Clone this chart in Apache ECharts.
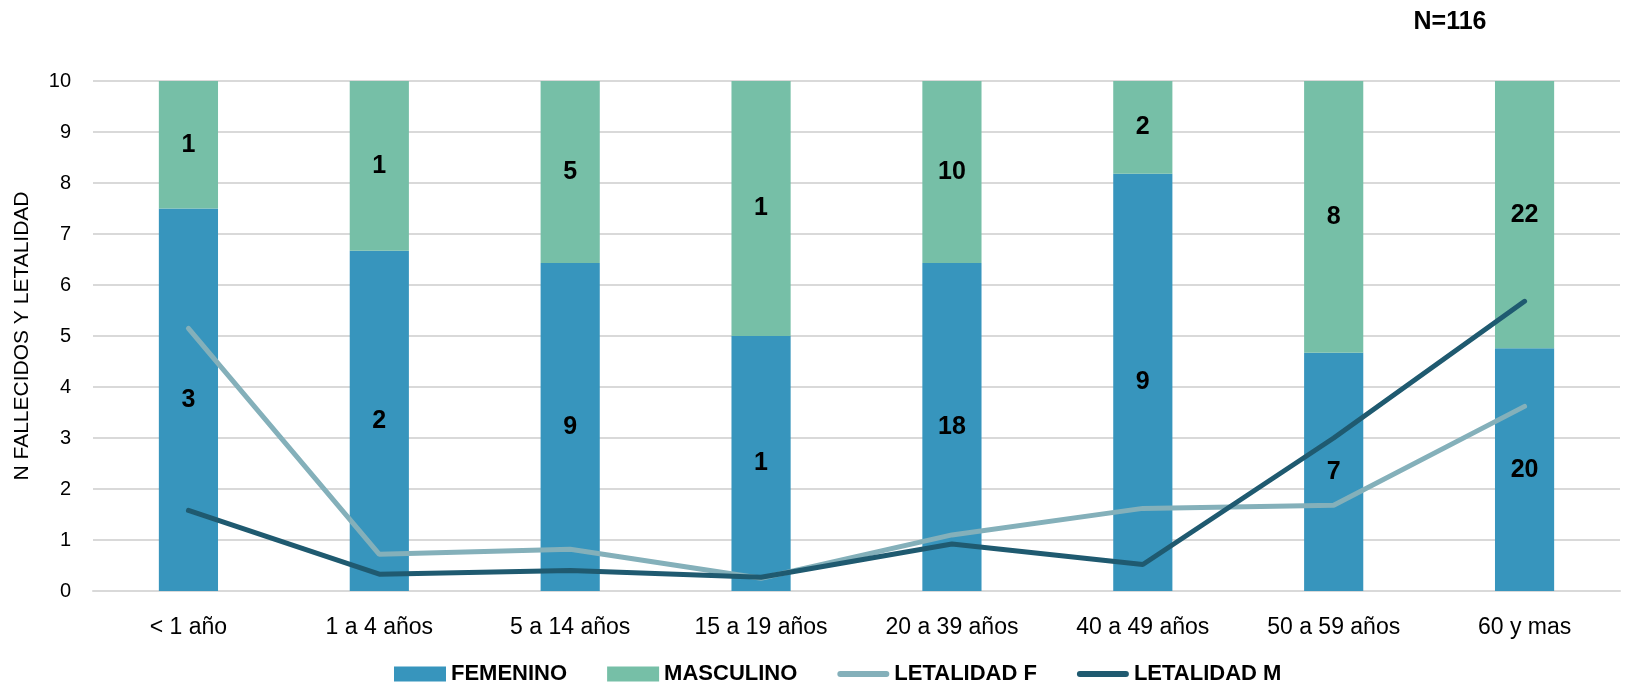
<!DOCTYPE html>
<html>
<head>
<meta charset="utf-8">
<script src="https://cdn.jsdelivr.net/npm/echarts@6/dist/echarts.min.js"></script>
<style>html,body{margin:0;padding:0;background:#fff;}#c{width:1652px;height:687px;}</style>
</head>
<body>
<div id="c"></div>
<script>
var categories = ['< 1 año', '1 a 4 años', '5 a 14 años', '15 a 19 años', '20 a 39 años', '40 a 49 años', '50 a 59 años', '60 y mas'];
var femeninoHeight = [7.5, 6.67, 6.43, 5.0, 6.43, 8.18, 4.67, 4.76];
var masculinoHeight = [2.5, 3.33, 3.57, 5.0, 3.57, 1.82, 5.33, 5.24];
var femeninoCount = [3, 2, 9, 1, 18, 9, 7, 20];
var masculinoCount = [1, 1, 5, 1, 10, 2, 8, 22];
var letalidadF = [5.15, 0.72, 0.82, 0.25, 1.1, 1.62, 1.68, 3.62];
var letalidadM = [1.58, 0.33, 0.4, 0.27, 0.92, 0.52, 3.0, 5.68];
var yTicks = [0, 1, 2, 3, 4, 5, 6, 7, 8, 9, 10];

var chart = echarts.init(document.getElementById('c'));
var font = 'Liberation Sans';
var lblStyle = {show: true, position: 'inside', color: '#000', fontWeight: 'bold', fontSize: 25, fontFamily: font};
var lineIcon = 'path://M0,0h0.05v0.05h-0.05zM52,15h-0.05v-0.05h0.05zM3,4.5h46a3,3 0 0 1 0,6h-46a3,3 0 0 1 0,-6z';
chart.setOption({
  animation: false,
  backgroundColor: '#fff',
  graphic: [
    {type: 'text', x: 1450, y: 22, style: {text: 'N=116', font: 'bold 25px "Liberation Sans"', fill: '#000', align: 'center', verticalAlign: 'middle'}},
    {type: 'text', x: 22, y: 336, rotation: Math.PI / 2, style: {text: 'N FALLECIDOS Y LETALIDAD', font: '21px "Liberation Sans"', fill: '#000', align: 'center', verticalAlign: 'middle'}}
  ],
  grid: {left: 93, right: 32, top: 81, bottom: 96},
  legend: {
    top: 658, left: 389, itemGap: 40, itemWidth: 52, itemHeight: 15,
    textStyle: {fontFamily: font, fontWeight: 'bold', fontSize: 22, color: '#000'},
    data: [
      {name: 'FEMENINO', icon: 'rect'},
      {name: 'MASCULINO', icon: 'rect'},
      {name: 'LETALIDAD F', icon: lineIcon},
      {name: 'LETALIDAD M', icon: lineIcon}
    ]
  },
  xAxis: {
    type: 'category', data: categories,
    axisLine: {lineStyle: {color: '#d9d9d9', width: 2}},
    axisTick: {show: false},
    axisLabel: {fontFamily: font, fontSize: 23, color: '#000', margin: 25}
  },
  yAxis: {
    type: 'value', min: 0, max: 10, interval: 1,
    axisLine: {show: false}, axisTick: {show: false},
    axisLabel: {fontFamily: font, fontSize: 20, color: '#000', margin: 22,
      formatter: function (v) { return yTicks.indexOf(v) >= 0 ? String(v) : ''; }},
    splitLine: {lineStyle: {color: '#d9d9d9', width: 2}}
  },
  series: [
    {name: 'FEMENINO', type: 'bar', stack: 's', barWidth: '31%', data: femeninoHeight,
      itemStyle: {color: '#3795bd'},
      label: Object.assign({}, lblStyle, {formatter: function (p) { return femeninoCount[p.dataIndex]; }})},
    {name: 'MASCULINO', type: 'bar', stack: 's', data: masculinoHeight,
      itemStyle: {color: '#76bfa7'},
      label: Object.assign({}, lblStyle, {formatter: function (p) { return masculinoCount[p.dataIndex]; }})},
    {name: 'LETALIDAD F', type: 'line', data: letalidadF, symbol: 'none',
      lineStyle: {color: '#84b0ba', width: 5, cap: 'round'}, itemStyle: {color: '#84b0ba'}},
    {name: 'LETALIDAD M', type: 'line', data: letalidadM, symbol: 'none',
      lineStyle: {color: '#1f5a70', width: 5, cap: 'round'}, itemStyle: {color: '#1f5a70'}}
  ]
});
</script>
</body>
</html>
